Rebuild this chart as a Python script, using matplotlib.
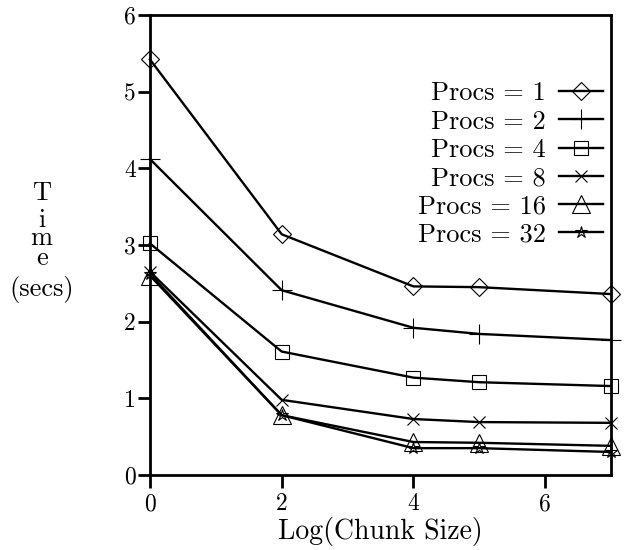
import matplotlib
matplotlib.use("Agg")
import matplotlib.pyplot as plt

plt.rcParams['font.family'] = ['cmr10', 'DejaVu Serif']
plt.rcParams['axes.unicode_minus'] = False
plt.rcParams['mathtext.fontset'] = 'cm'

# Data
chunk = [0, 2, 4, 5, 7]
procs_labels = ['Procs = 1', 'Procs = 2', 'Procs = 4', 'Procs = 8',
                'Procs = 16', 'Procs = 32']
t_p1 = [5.42, 3.14, 2.46, 2.45, 2.36]
t_p2 = [4.12, 2.41, 1.92, 1.84, 1.76]
t_p4 = [3.02, 1.61, 1.27, 1.21, 1.16]
t_p8 = [2.65, 0.98, 0.73, 0.69, 0.68]
t_p16 = [2.60, 0.78, 0.43, 0.42, 0.38]
t_p32 = [2.62, 0.78, 0.35, 0.35, 0.30]
series = [t_p1, t_p2, t_p4, t_p8, t_p16, t_p32]

markers = ['D', '+', 's', 'x', '^', '*']
msizes = [9.5, 14, 10.5, 9, 13, 9]

fig = plt.figure(figsize=(6.26, 5.5), dpi=100)
ax = fig.add_axes([0.2396, 0.1364, 0.7364, 0.8363])

for vals, lab, mk, ms in zip(series, procs_labels, markers, msizes):
    ax.plot(chunk, vals, color='black', linewidth=1.7, marker=mk,
            markersize=ms, markerfacecolor='none', markeredgecolor='black',
            markeredgewidth=0.8, label=lab, clip_on=False)

ax.set_xlim(0, 7)
ax.set_ylim(0, 6)
ax.set_xticks([0, 2, 4, 6])
ax.set_yticks([0, 1, 2, 3, 4, 5, 6])
ax.tick_params(axis='both', direction='out', length=9, width=2,
               labelsize=17, pad=1, colors='black')
ax.tick_params(axis='x', pad=4)
for sp in ax.spines.values():
    sp.set_linewidth(2)

ax.set_xlabel('Log(Chunk Size)', fontsize=20, labelpad=1)

# stacked y label, one letter per line as in the original
ylab_x = 0.0665
for ch, yb in zip(['T', 'i', 'm', 'e'], [0.6364, 0.5873, 0.5545, 0.5182]):
    fig.text(ylab_x, yb, ch, fontsize=19, ha='center', va='baseline')
fig.text(ylab_x, 0.462, '(secs)', fontsize=19, ha='center', va='baseline')

ax.legend(loc='upper right', bbox_to_anchor=(0.983, 0.855), frameon=False,
          markerfirst=False, fontsize=19, handlelength=1.67,
          handletextpad=0.5, labelspacing=0.17, borderpad=0,
          borderaxespad=0)

fig.savefig('out.png', dpi=100)
